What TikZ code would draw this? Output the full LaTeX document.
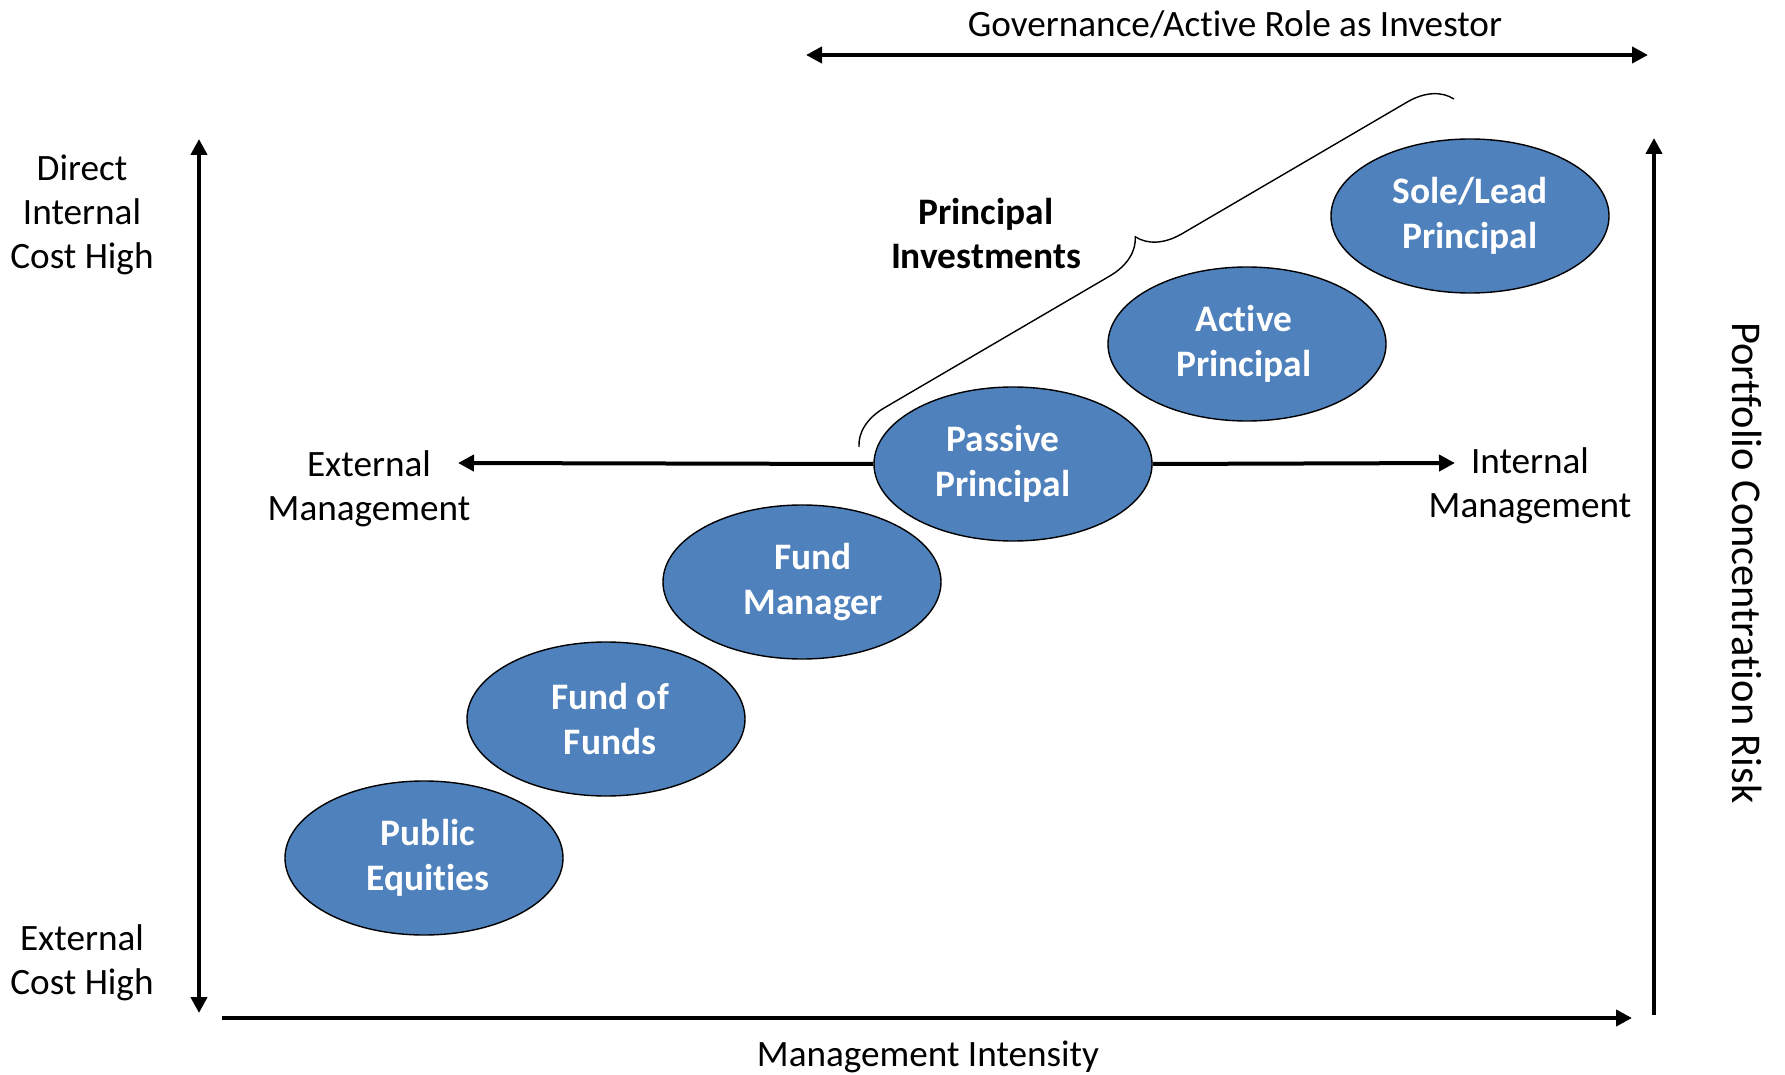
\documentclass[tikz,border=0pt]{standalone}
\usepackage{fontspec}
\setmainfont{Carlito}[Ligatures=NoCommon]
\usetikzlibrary{arrows.meta,shapes.geometric,decorations.pathreplacing}
\definecolor{stageblue}{RGB}{79,129,189}
\tikzstyle{stage} = [ellipse, draw=black, line width=0.7pt, fill=stageblue, minimum width=139pt, minimum height=77pt, inner sep=0pt, align=center, text=white, font=\bfseries\fontsize{18.7}{22.5}\selectfont]
\tikzstyle{label} = [align=center, inner sep=0pt, font=\fontsize{18.6}{22}\selectfont]
\tikzstyle{axis} = [line width=2pt, -{Triangle[length=8pt,width=8pt]}]
\tikzstyle{twoway} = [line width=2pt, {Triangle[length=8pt,width=8pt]}-{Triangle[length=8pt,width=8pt]}]

\begin{document}
\begin{tikzpicture}[x=0.5pt,y=-0.5pt]
\useasboundingbox (0,0) rectangle (1785,1075);

    % Axes
    \coordinate (costtop) at (199,139);
    \coordinate (costbot) at (199,1013);
    \draw[twoway] (costbot) -- (costtop);

    \coordinate (intleft) at (222,1018);
    \coordinate (intright) at (1632,1018);
    \draw[axis] (intleft) -- (intright);

    \coordinate (riskbot) at (1654,1015);
    \coordinate (risktop) at (1654,138);
    \draw[axis] (riskbot) -- (risktop);

    \coordinate (govleft) at (806,55);
    \coordinate (govright) at (1648,55);
    \draw[twoway] (govleft) -- (govright);

    % Axis labels
    \node (gov) at (1235,24) [label] {Governance/Active Role as Investor};
    \node (intensity) at (928,1057) [label] {Management Intensity};
    \node (direct) at (82,215) [label] {Direct\\Internal\\Cost High};
    \node (external) at (82,963) [label] {External\\Cost High};
    \node (risk) at (1747,563) [label, rotate=-90, font=\fontsize{21.2}{25}\selectfont] {Portfolio Concentration Risk};

    % Stages of investing
    \node (public) at (424,858) [stage] {\hspace*{4pt}Public\\\hspace*{4pt}Equities};
    \node (fof) at (606,719) [stage] {\hspace*{4pt}Fund of\\\hspace*{4pt}Funds};
    \node (manager) at (802,582) [stage] {\hspace*{11pt}Fund\\\hspace*{11pt}Manager};
    \node (passive) at (1013,464) [stage] {Passive\hspace*{10pt}\\Principal\hspace*{10pt}};
    \node (active) at (1247,344) [stage] {Active\hspace*{3pt}\\Principal\hspace*{3pt}};
    \node (sole) at (1470,216) [stage] {Sole/Lead\\Principal};

    % External vs internal management
    \coordinate (extend) at (458,463);
    \coordinate (intend) at (1455,463);
    \draw[axis] (passive.west) -- (extend);
    \draw[axis] (passive.east) -- (intend);
    \node (extlabel) at (369,489) [label] {External\\Management};
    \node (intlabel) at (1530,486) [label] {Internal\\Management};

    % Brace over the principal investments
    \coordinate (bracestart) at (859,447);
    \coordinate (braceend) at (1454,99);
    \draw[line width=0.7pt, decorate, decoration={brace, amplitude=21pt}] (bracestart) -- (braceend);
    \node (principal) at (986,234) [label, font=\bfseries\fontsize{18.7}{22}\selectfont] {Principal\\Investments};

\end{tikzpicture}
\end{document}
